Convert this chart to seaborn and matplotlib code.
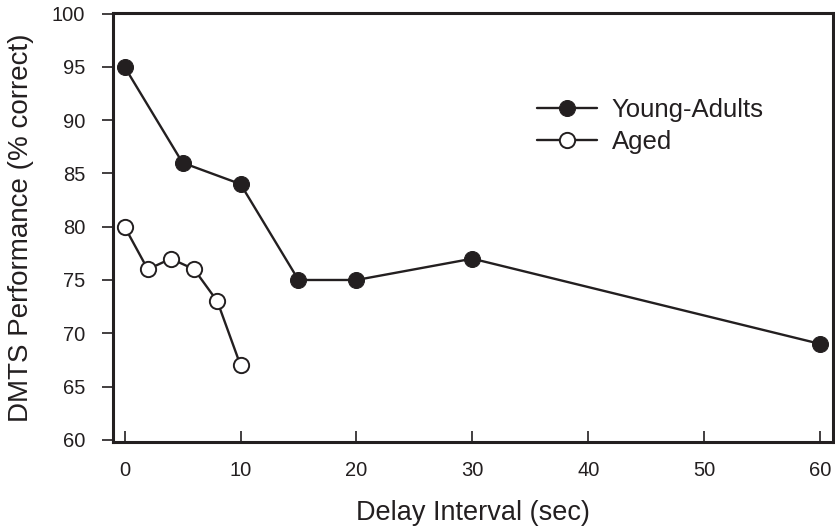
import matplotlib
matplotlib.use("Agg")
import matplotlib.pyplot as plt
import seaborn as sns
import pandas as pd

young_x = [0, 5, 10, 15, 20, 30, 60]
young_y = [95, 86, 84, 75, 75, 77, 69]
aged_x = [0, 2, 4, 6, 8, 10]
aged_y = [80, 76, 77, 76, 73, 67]
x_ticks = [0, 10, 20, 30, 40, 50, 60]
y_ticks = [60, 65, 70, 75, 80, 85, 90, 95, 100]

sns.set_theme(style="ticks")
plt.rcParams['font.family'] = ['Liberation Sans', 'DejaVu Sans']

fig = plt.figure(figsize=(8.35, 5.29), dpi=100)
ax = fig.add_axes([0.1353, 0.1645, 0.9976 - 0.1353, 0.9754 - 0.1645])

dy = pd.DataFrame({"x": young_x, "y": young_y})
da = pd.DataFrame({"x": aged_x, "y": aged_y})
c = "#231f20"
sns.lineplot(data=dy, x="x", y="y", ax=ax, color=c, lw=1.7, marker="o",
             markersize=11.5, markerfacecolor=c, markeredgecolor=c,
             label="Young-Adults")
sns.lineplot(data=da, x="x", y="y", ax=ax, color=c, lw=1.7, marker="o",
             markersize=11, markerfacecolor="white", markeredgecolor=c,
             markeredgewidth=1.4, label="Aged")

ax.set_xlim(-1.0, 61.1)
ax.set_ylim(59.8, 100.05)
ax.set_xticks(x_ticks)
ax.set_yticks(y_ticks)
ax.tick_params(axis="x", direction="in", length=8, width=1.2, pad=14,
               labelsize=14.5, colors=c)
ax.tick_params(axis="y", direction="out", length=8, width=1.2, pad=12,
               labelsize=14.5, colors=c)
for s in ax.spines.values():
    s.set_linewidth(2.2)
    s.set_color(c)
    s.set_visible(True)

ax.set_xlabel("Delay Interval (sec)", fontsize=19.5, color=c, labelpad=14)
ax.set_ylabel("DMTS Performance (% correct)", fontsize=20, color=c, labelpad=13)

leg = ax.legend(loc="upper left", bbox_to_anchor=(0.574, 0.826), frameon=False,
                fontsize=18.5, handlelength=2.35, handletextpad=0.57,
                labelspacing=0.33, borderaxespad=0)
for t in leg.get_texts():
    t.set_color(c)

fig.savefig("out.png", dpi=100)
